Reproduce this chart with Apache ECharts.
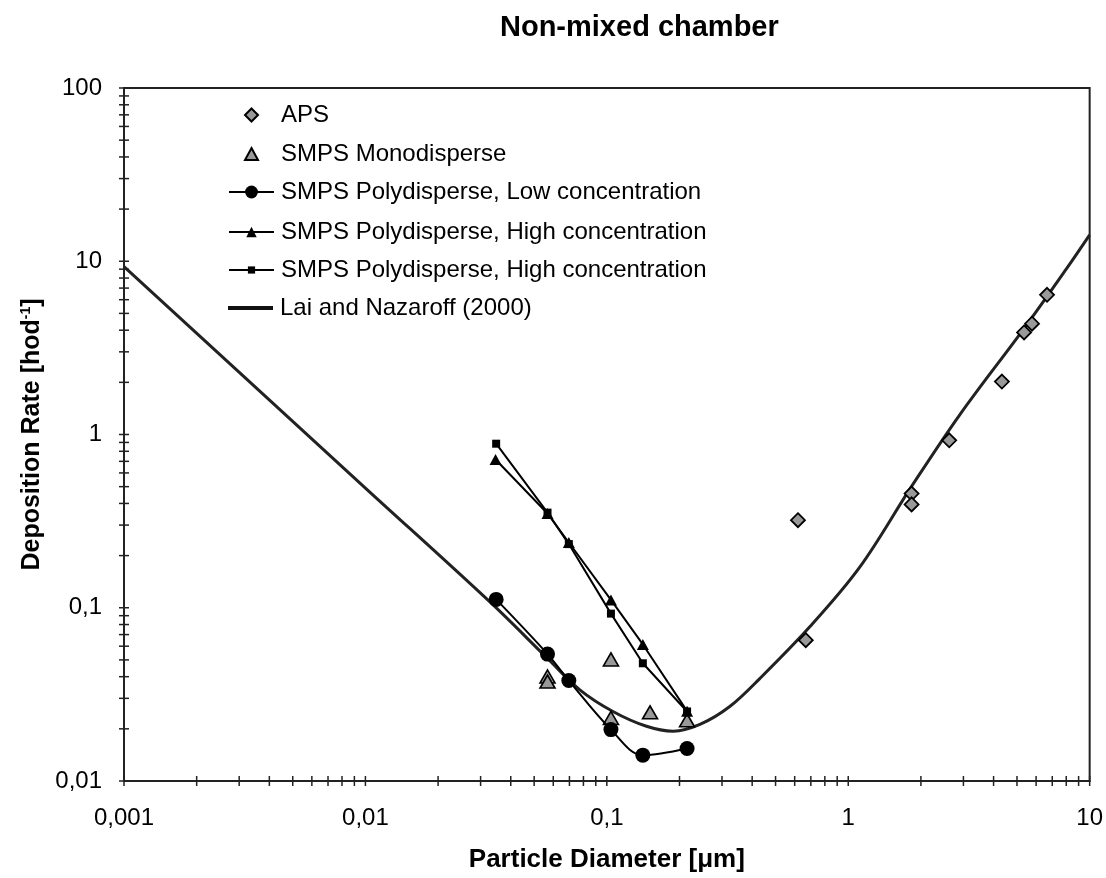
<!DOCTYPE html>
<html>
<head>
<meta charset="utf-8">
<script src="https://cdn.jsdelivr.net/npm/echarts@6/dist/echarts.min.js"></script>
<style>
html,body{margin:0;padding:0;background:#fff;}
#chart{width:1106px;height:878px;}
</style>
</head>
<body>
<div id="chart"></div>
<script>
// ---- Data ----
const xTickLabels = ['0,001', '0,01', '0,1', '1', '10'];
const yTickLabels = ['0,01', '0,1', '1', '10', '100'];

const apsX = [6.66, 5.77, 5.35, 4.33, 2.62, 1.83, 1.83, 0.619, 0.667];
const apsY = [6.40, 4.36, 3.88, 2.02, 0.926, 0.456, 0.395, 0.320, 0.065];

const monoX = [0.0568, 0.0568, 0.104, 0.104, 0.151, 0.215];
const monoY = [0.0401, 0.0375, 0.0503, 0.0231, 0.0249, 0.0224];

const lowX = [0.0348, 0.0568, 0.0696, 0.104, 0.141, 0.215];
const lowY = [0.1117, 0.054, 0.038, 0.0198, 0.0141, 0.0154];

const highTriX = [0.0346, 0.0568, 0.0696, 0.104, 0.141, 0.215];
const highTriY = [0.717, 0.35, 0.238, 0.111, 0.0614, 0.0253];

const highSqX = [0.0348, 0.0568, 0.0696, 0.104, 0.141, 0.215];
const highSqY = [0.885, 0.354, 0.233, 0.0925, 0.0478, 0.0252];

const laiX = [0.001, 0.01, 0.0328, 0.0568, 0.0773, 0.106, 0.146, 0.188, 0.243, 0.323, 0.43, 0.693, 1.116, 1.827, 2.896, 5.47, 8.01, 10];
const laiY = [9.3, 0.491, 0.108, 0.051, 0.0336, 0.0252, 0.0207, 0.0194, 0.0212, 0.0269, 0.039, 0.0776, 0.1714, 0.50, 1.30, 4.27, 9.03, 14.2];

const xTicks = [0.001,0.002,0.003,0.004,0.005,0.006,0.007,0.008,0.009,
                0.01,0.02,0.03,0.04,0.05,0.06,0.07,0.08,0.09,
                0.1,0.2,0.3,0.4,0.5,0.6,0.7,0.8,0.9,
                1,2,3,4,5,6,7,8,9,10];
const yTicks = [0.01,0.02,0.03,0.04,0.05,0.06,0.07,0.08,0.09,
                0.1,0.2,0.3,0.4,0.5,0.6,0.7,0.8,0.9,
                1,2,3,4,5,6,7,8,9,
                10,20,30,40,50,60,70,80,90,100];

const seriesNames = {
  aps: 'APS',
  mono: 'SMPS Monodisperse',
  low: 'SMPS Polydisperse, Low concentration',
  high: 'SMPS Polydisperse, High concentration',
  high2: 'SMPS Polydisperse, High concentration (2)',
  lai: 'Lai and Nazaroff (2000)'
};

const zip = (a, b) => a.map((v, i) => [v, b[i]]);
const FONT = "'Liberation Sans', Arial, sans-serif";
const AX = '#222';

// legend helper: icon box of width w centred at x = 250.5, text starting at x = 280
function legend(item, top, w, h) {
  const left = 250.5 - w / 2;
  const padLeft = 280 - (left + w + 5);
  return {
    data: [item], left: left, top: top, orient: 'vertical',
    itemWidth: w, itemHeight: h, padding: 0, selectedMode: false,
    formatter: n => n.replace(' (2)', ''),
    textStyle: { fontFamily: FONT, fontSize: 24, color: '#000', lineHeight: 24, padding: [0, 0, 0, padLeft] }
  };
}

const xMin = 0.001, yMin = 0.01;

const option = {
  animation: false,
  backgroundColor: '#fff',
  title: {
    text: 'Non-mixed chamber', left: 495, top: 8,
    textStyle: { fontFamily: FONT, fontSize: 29, fontWeight: 'bold', color: '#000' }
  },
  grid: { left: 124, top: 88, right: 16, bottom: 93, show: true, borderColor: AX, borderWidth: 2, backgroundColor: 'transparent' },
  legend: [
    legend(seriesNames.aps, 103, 13, 13),
    legend(seriesNames.mono, 142, 13, 12),
    legend(seriesNames.low, 180, 45, 16),
    legend(seriesNames.high, 220, 45, 13),
    legend(seriesNames.high2, 258, 45, 9),
    legend({ name: seriesNames.lai, icon: 'rect', itemStyle: { color: '#111' } }, 296, 45, 4)
  ],
  xAxis: {
    type: 'log', logBase: 10, min: 0.001, max: 10,
    name: 'Particle Diameter [\u03bcm]', nameLocation: 'middle', nameGap: 66,
    nameTextStyle: { fontFamily: FONT, fontSize: 26, fontWeight: 'bold', color: '#000' },
    axisLine: { show: true, lineStyle: { color: AX, width: 2 } },
    axisTick: { show: false },
    splitLine: { show: false },
    axisLabel: {
      margin: 25, fontFamily: FONT, fontSize: 24, color: '#000',
      showMinLabel: true, showMaxLabel: true,
      formatter: v => xTickLabels[Math.round(Math.log10(v)) + 3] || ''
    }
  },
  yAxis: {
    type: 'log', logBase: 10, min: 0.01, max: 100,
    name: '{a|Deposition Rate [hod}{s|-1}{a|]}', nameLocation: 'middle', nameGap: 78, nameRotate: 90,
    nameTextStyle: {
      fontFamily: FONT, fontSize: 25, fontWeight: 'bold', color: '#000',
      rich: {
        a: { fontFamily: FONT, fontSize: 25, fontWeight: 'bold', color: '#000', lineHeight: 26 },
        s: { fontFamily: FONT, fontSize: 14, fontWeight: 'bold', color: '#000', verticalAlign: 'top', lineHeight: 26, padding: [0, 0, 8, 0] }
      }
    },
    axisLine: { show: true, lineStyle: { color: AX, width: 2 } },
    axisTick: { show: false },
    splitLine: { show: false },
    axisLabel: {
      margin: 22, fontFamily: FONT, fontSize: 24, color: '#000',
      showMinLabel: true, showMaxLabel: true,
      formatter: v => yTickLabels[Math.round(Math.log10(v)) + 2] || ''
    }
  },
  series: [
    {
      name: 'xticks', type: 'custom', clip: false, silent: true, z: 5,
      data: xTicks.map(v => [v, yMin]),
      renderItem: (params, api) => {
        const p = api.coord([api.value(0), api.value(1)]);
        return { type: 'line', shape: { x1: p[0], y1: p[1] - 5, x2: p[0], y2: p[1] + 5 }, style: { stroke: AX, lineWidth: 1.5 } };
      }
    },
    {
      name: 'yticks', type: 'custom', clip: false, silent: true, z: 5,
      data: yTicks.map(v => [xMin, v]),
      renderItem: (params, api) => {
        const p = api.coord([api.value(0), api.value(1)]);
        return { type: 'line', shape: { x1: p[0] - 5, y1: p[1], x2: p[0] + 5, y2: p[1] }, style: { stroke: AX, lineWidth: 1.5 } };
      }
    },
    {
      name: seriesNames.lai, type: 'line', smooth: 0.35, symbol: 'none', z: 1,
      data: zip(laiX, laiY),
      lineStyle: { color: '#222', width: 3 },
      itemStyle: { color: '#222' }
    },
    {
      name: seriesNames.aps, type: 'scatter', symbol: 'diamond', symbolSize: 14, z: 3,
      data: zip(apsX, apsY),
      itemStyle: { color: '#999', borderColor: '#000', borderWidth: 1.8, opacity: 1 }
    },
    {
      name: seriesNames.mono, type: 'scatter', symbol: 'triangle', symbolSize: [15, 13], z: 3,
      data: zip(monoX, monoY),
      itemStyle: { color: '#999', borderColor: '#000', borderWidth: 1.6, opacity: 1 }
    },
    {
      name: seriesNames.low, type: 'line', smooth: 0.35, symbol: 'circle', symbolSize: 15, z: 4,
      data: zip(lowX, lowY),
      lineStyle: { color: '#000', width: 2 },
      itemStyle: { color: '#000', borderWidth: 0 }
    },
    {
      name: seriesNames.high, type: 'line', symbol: 'triangle', symbolSize: [12, 11], z: 4,
      data: zip(highTriX, highTriY),
      lineStyle: { color: '#000', width: 2 },
      itemStyle: { color: '#000', borderWidth: 0 }
    },
    {
      name: seriesNames.high2, type: 'line', symbol: 'rect', symbolSize: 8, z: 4,
      data: zip(highSqX, highSqY),
      lineStyle: { color: '#000', width: 2 },
      itemStyle: { color: '#000', borderWidth: 0 }
    }
  ]
};

const chart = echarts.init(document.getElementById('chart'), null, { renderer: 'canvas' });
chart.setOption(option);
</script>
</body>
</html>
